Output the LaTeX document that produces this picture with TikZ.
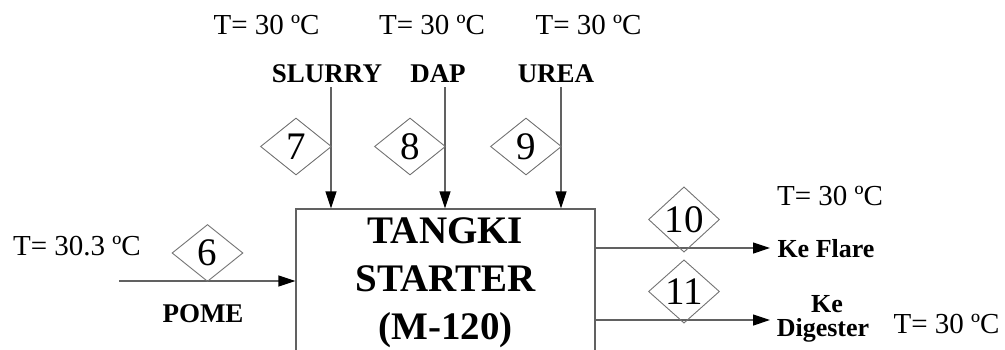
\documentclass[tikz,border=0pt]{standalone}
\usepackage{fontspec}
\setmainfont{Liberation Serif}
\usetikzlibrary{shapes.geometric,arrows.meta}
\begin{document}
\begin{tikzpicture}[x=1pt,y=-1pt,
  flow/.style={draw=black!62, line width=1.2pt, -{Triangle[length=17pt,width=11pt,color=black]}},
  num/.style={draw=black!55, line width=0.9pt, shape=diamond, minimum width=71pt, minimum height=57pt, inner sep=0pt, font=\fontsize{39}{39}\selectfont},
  tank/.style={draw=black!62, line width=1.2pt, minimum width=299pt, minimum height=147pt, inner sep=0pt, align=center, font=\fontsize{39}{48}\selectfont\bfseries},
  tlabel/.style={anchor=base, inner sep=0pt, font=\fontsize{29}{29}\selectfont},
  slabel/.style={anchor=base, inner sep=0pt, font=\fontsize{27}{27}\selectfont\bfseries},
  olabel/.style={anchor=base, inner sep=0pt, align=center, font=\fontsize{26}{26}\selectfont\bfseries}]
\useasboundingbox (0,0) rectangle (1005,349);
% tank
\node[tank] (tank) at (445.5,282.5) {TANGKI\\STARTER\\(M-120)};
% input 6 (POME)
\coordinate (in6) at (119,281);
\draw[flow] (in6) -- (in6 -| tank.west);
\node[num] (d6) at (207.5,253) {6};
\node[slabel] (pome) at (203,322) {POME};
\node[tlabel] (t6) at (77,255) {T= 30.3 ºC};
% input 7 (SLURRY)
\coordinate (in7) at (331,87);
\draw[flow] (in7) -- (in7 |- tank.north);
\node[num] (d7) at (296,146.5) {7};
\node[slabel] (slurry) at (327,82) {SLURRY};
\node[tlabel] (t7) at (266.5,34) {T= 30 ºC};
% input 8 (DAP)
\coordinate (in8) at (445,87);
\draw[flow] (in8) -- (in8 |- tank.north);
\node[num] (d8) at (410,146.5) {8};
\node[slabel] (dap) at (438,82) {DAP};
\node[tlabel] (t8) at (432,34) {T= 30 ºC};
% input 9 (UREA)
\coordinate (in9) at (561,87);
\draw[flow] (in9) -- (in9 |- tank.north);
\node[num] (d9) at (526,146.5) {9};
\node[slabel] (urea) at (556,82) {UREA};
\node[tlabel] (t9) at (588.5,34) {T= 30 ºC};
% output 10 (Ke Flare)
\coordinate (out10) at (770,248);
\draw[flow] (out10 -| tank.east) -- (out10);
\node[num] (d10) at (684,219.5) {10};
\node[olabel] (flare) at (826,257) {Ke Flare};
\node[tlabel] (t10) at (830,205) {T= 30 ºC};
% output 11 (Ke Digester)
\coordinate (out11) at (770,320);
\draw[flow] (out11 -| tank.east) -- (out11);
\node[num] (d11) at (684,291.5) {11};
\node[olabel] (ke) at (827,312) {Ke};
\node[olabel] (digester) at (823,336) {Digester};
\node[tlabel] (t11) at (946.5,333) {T= 30 ºC};
\end{tikzpicture}
\end{document}
